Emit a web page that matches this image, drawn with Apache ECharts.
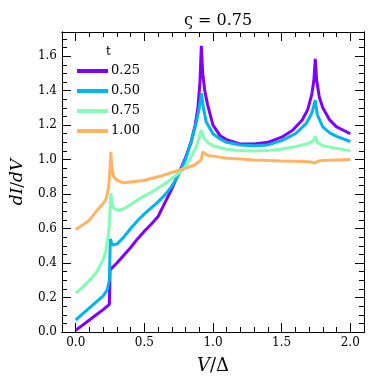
<!DOCTYPE html>
<html>
<head>
<meta charset="utf-8">
<script src="https://cdn.jsdelivr.net/npm/echarts@6/dist/echarts.min.js"></script>
<style>
    html, body { margin: 0; padding: 0; background: #fff; }
    #chart { width: 374px; height: 386px; }
</style>
</head>
<body>
<div id="chart"></div>
<script>
// t values and colours (matplotlib rainbow)
const tLabels = ["0.25", "0.50", "0.75", "1.00"]
const colors = ["#8000ff", "#00b4ec", "#80ffb4", "#ffb462"]

// [V/Δ, dI/dV]
const curveT025 = [
    [0, 0.01], [0.05, 0.04], [0.1, 0.07], [0.15, 0.1], [0.2, 0.13], [0.245, 0.16],
    [0.25, 0.36], [0.3, 0.4], [0.35, 0.445], [0.4, 0.49], [0.45, 0.54], [0.5, 0.585],
    [0.55, 0.625], [0.6, 0.67], [0.65, 0.75], [0.7, 0.83], [0.75, 0.92], [0.8, 1.01],
    [0.84, 1.1], [0.87, 1.2], [0.89, 1.3], [0.905, 1.45], [0.915, 1.66], [0.925, 1.5],
    [0.94, 1.4], [0.96, 1.32], [1.0, 1.2], [1.05, 1.14], [1.1, 1.115], [1.2, 1.09],
    [1.3, 1.09], [1.4, 1.1], [1.5, 1.13], [1.58, 1.17], [1.65, 1.23], [1.69, 1.29],
    [1.72, 1.38], [1.735, 1.46], [1.745, 1.585], [1.755, 1.46], [1.775, 1.36],
    [1.8, 1.3], [1.85, 1.23], [1.9, 1.19], [1.95, 1.17], [2.0, 1.15],
]
const curveT050 = [
    [0, 0.07], [0.05, 0.105], [0.1, 0.14], [0.15, 0.175], [0.2, 0.21], [0.23, 0.245],
    [0.245, 0.3], [0.252, 0.54], [0.265, 0.505], [0.3, 0.51], [0.35, 0.55], [0.4, 0.6],
    [0.45, 0.645], [0.5, 0.685], [0.55, 0.72], [0.6, 0.755], [0.65, 0.795], [0.7, 0.845],
    [0.75, 0.915], [0.8, 1.0], [0.85, 1.13], [0.88, 1.22], [0.9, 1.3], [0.915, 1.385],
    [0.93, 1.3], [0.95, 1.22], [1.0, 1.15], [1.05, 1.12], [1.1, 1.1], [1.2, 1.085],
    [1.3, 1.08], [1.4, 1.085], [1.5, 1.11], [1.6, 1.15], [1.68, 1.21], [1.72, 1.27],
    [1.745, 1.345], [1.76, 1.26], [1.8, 1.19], [1.85, 1.155], [1.9, 1.135], [2.0, 1.105],
]
const curveT075 = [
    [0, 0.225], [0.05, 0.26], [0.1, 0.3], [0.15, 0.345], [0.2, 0.42], [0.22, 0.47],
    [0.24, 0.58], [0.25, 0.7], [0.256, 0.805], [0.265, 0.74], [0.28, 0.715], [0.31, 0.705],
    [0.35, 0.715], [0.4, 0.74], [0.45, 0.765], [0.5, 0.79], [0.55, 0.81], [0.6, 0.835],
    [0.65, 0.86], [0.7, 0.89], [0.75, 0.92], [0.8, 0.96], [0.85, 1.03], [0.88, 1.08],
    [0.9, 1.13], [0.915, 1.17], [0.93, 1.13], [0.96, 1.1], [1.0, 1.08], [1.1, 1.06],
    [1.2, 1.052], [1.3, 1.05], [1.4, 1.052], [1.5, 1.062], [1.6, 1.075], [1.7, 1.095],
    [1.73, 1.11], [1.745, 1.135], [1.76, 1.1], [1.8, 1.08], [1.9, 1.065], [2.0, 1.052],
]
const curveT100 = [
    [0, 0.595], [0.05, 0.62], [0.1, 0.65], [0.15, 0.7], [0.2, 0.745], [0.22, 0.77],
    [0.24, 0.84], [0.25, 0.95], [0.256, 1.045], [0.262, 0.96], [0.275, 0.905], [0.3, 0.88],
    [0.35, 0.865], [0.4, 0.87], [0.5, 0.88], [0.6, 0.9], [0.7, 0.925], [0.8, 0.95],
    [0.87, 0.97], [0.9, 0.99], [0.915, 1.0], [0.925, 1.045], [0.94, 1.035], [0.96, 1.025],
    [1.0, 1.02], [1.1, 1.008], [1.2, 1.003], [1.3, 0.998], [1.4, 0.995], [1.5, 0.992],
    [1.6, 0.99], [1.7, 0.988], [1.745, 0.98], [1.76, 0.99], [1.8, 0.995], [1.9, 0.998],
    [2.0, 1.0],
]
const curves = [curveT025, curveT050, curveT075, curveT100]

// axis ticks
const xMajorTicks = [0, 0.5, 1.0, 1.5, 2.0]
const xMinorTicks = [0, 0.1, 0.2, 0.3, 0.4, 0.5, 0.6, 0.7, 0.8, 0.9, 1.0,
    1.1, 1.2, 1.3, 1.4, 1.5, 1.6, 1.7, 1.8, 1.9, 2.0]
const yMajorTicks = [0, 0.2, 0.4, 0.6, 0.8, 1.0, 1.2, 1.4, 1.6]
const yMinorTicks = [0, 0.05, 0.1, 0.15, 0.2, 0.25, 0.3, 0.35, 0.4, 0.45, 0.5, 0.55,
    0.6, 0.65, 0.7, 0.75, 0.8, 0.85, 0.9, 0.95, 1.0, 1.05, 1.1, 1.15, 1.2, 1.25,
    1.3, 1.35, 1.4, 1.45, 1.5, 1.55, 1.6, 1.65, 1.7]

const X_MIN = -0.1, X_MAX = 2.1, Y_MIN = 0, Y_MAX = 1.74
const serif = "DejaVu Serif"

const makeAxis = (kind, position, ticks, len, showLabel) => ({
    type: "value",
    position,
    min: kind === "x" ? X_MIN : Y_MIN,
    max: kind === "x" ? X_MAX : Y_MAX,
    axisLine: { show: true, onZero: false, lineStyle: { color: "#000", width: 1 } },
    axisTick: {
        show: true,
        inside: true,
        length: len,
        customValues: ticks,
        lineStyle: { color: "#000", width: 1 },
    },
    axisLabel: {
        show: showLabel,
        customValues: ticks,
        margin: 5,
        fontFamily: serif,
        fontSize: 12,
        color: "#000",
        formatter: (v) => v.toFixed(1),
    },
    splitLine: { show: false },
})

const xAxisMain = makeAxis("x", "bottom", xMajorTicks, 9, true)
xAxisMain.name = "{i|V}/Δ"
xAxisMain.nameLocation = "middle"
xAxisMain.nameGap = 25
xAxisMain.nameTextStyle = {
    fontFamily: serif,
    fontSize: 18,
    color: "#000",
    rich: { i: { fontFamily: serif, fontStyle: "italic", fontSize: 18 } },
}

const yAxisMain = makeAxis("y", "left", yMajorTicks, 9, true)
yAxisMain.name = "{i|dI}/{i|dV}"
yAxisMain.nameLocation = "middle"
yAxisMain.nameGap = 36
yAxisMain.nameTextStyle = {
    fontFamily: serif,
    fontSize: 17,
    color: "#000",
    rich: { i: { fontFamily: serif, fontStyle: "italic", fontSize: 17 } },
}

const config = {
    animation: false,
    backgroundColor: "#fff",
    textStyle: { fontFamily: serif },
    title: [
        {
            text: "ς = 0.75",
            left: 213,
            top: 8,
            textAlign: "center",
            textStyle: { fontFamily: serif, fontWeight: "normal", fontSize: 16, color: "#000" },
        },
        {
            text: "t",
            left: 101,
            top: 41,
            textStyle: { fontFamily: serif, fontWeight: "normal", fontSize: 12, color: "#000" },
        },
    ],
    legend: {
        orient: "vertical",
        left: 72,
        top: 59,
        icon: "rect",
        itemWidth: 31,
        itemHeight: 4,
        itemGap: 6,
        textStyle: { fontFamily: serif, fontSize: 13, lineHeight: 14, color: "#000", padding: [0, 0, 0, -2] },
        data: tLabels,
    },
    grid: { left: 62, right: 10, top: 32, bottom: 54, containLabel: false },
    xAxis: [
        xAxisMain,
        makeAxis("x", "bottom", xMinorTicks, 5, false),
        makeAxis("x", "top", xMajorTicks, 9, false),
        makeAxis("x", "top", xMinorTicks, 5, false),
    ],
    yAxis: [
        yAxisMain,
        makeAxis("y", "left", yMinorTicks, 5, false),
        makeAxis("y", "right", yMajorTicks, 9, false),
        makeAxis("y", "right", yMinorTicks, 5, false),
    ],
    series: curves.map((data, i) => ({
        name: tLabels[i],
        type: "line",
        data,
        showSymbol: false,
        symbol: "none",
        color: colors[i],
        lineStyle: { width: 3, color: colors[i] },
        xAxisIndex: 0,
        yAxisIndex: 0,
    })),
}

const chart = echarts.init(document.getElementById("chart"), null, { renderer: "canvas" })
chart.setOption(config)
</script>
</body>
</html>
